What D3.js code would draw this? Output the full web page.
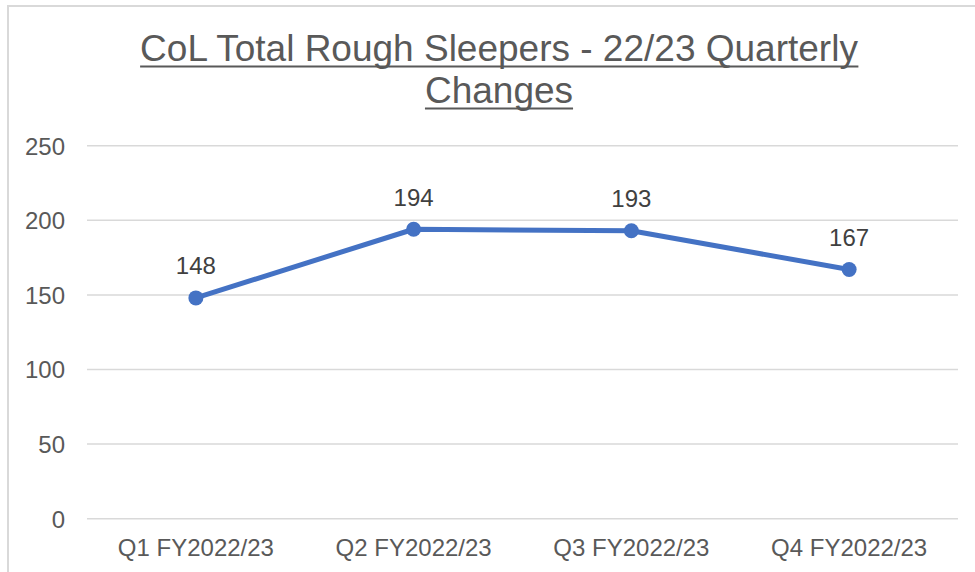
<!DOCTYPE html>
<html>
<head>
<meta charset="utf-8">
<script src="https://cdn.jsdelivr.net/npm/d3@7"></script>
<style>
  html, body { margin: 0; padding: 0; background: #fff; }
  svg { display: block; font-family: "Liberation Sans", Arial, sans-serif; }
</style>
</head>
<body>
<svg id="chart" width="975" height="572"></svg>
<script>
const categories = ["Q1 FY2022/23", "Q2 FY2022/23", "Q3 FY2022/23", "Q4 FY2022/23"];
const values = [148, 194, 193, 167];
const yTicks = [0, 50, 100, 150, 200, 250];
const titleLines = ["CoL Total Rough Sleepers - 22/23 Quarterly", "Changes"];

const W = 975, H = 572;
const plot = { left: 87, right: 958, top: 145.7, bottom: 518.7 };

const svg = d3.select("#chart");

// chart border
svg.append("rect")
  .attr("x", 8).attr("y", 6)
  .attr("width", 1100).attr("height", 700)
  .attr("fill", "none").attr("stroke", "#d9d9d9").attr("stroke-width", 2);

const x = d3.scaleBand().domain(categories).range([plot.left, plot.right]).padding(0);
const y = d3.scaleLinear().domain([0, 250]).range([plot.bottom, plot.top]);

// gridlines
svg.append("g").selectAll("line").data(yTicks).join("line")
  .attr("x1", plot.left).attr("x2", plot.right)
  .attr("y1", d => y(d)).attr("y2", d => y(d))
  .attr("stroke", "#d9d9d9").attr("stroke-width", 1.5);

// y axis labels
const yAxis = d3.axisLeft(y).tickValues(yTicks).tickSize(0).tickPadding(0);
const gy = svg.append("g").attr("transform", `translate(65,0)`).call(yAxis);
gy.select(".domain").remove();
gy.selectAll("text")
  .attr("fill", "#595959").attr("font-size", 24)
  .attr("font-family", "'Liberation Sans', Arial, sans-serif")
  .attr("dy", "0.35em");

// x axis labels
const xAxis = d3.axisBottom(x).tickSize(0).tickPadding(0);
const gx = svg.append("g").attr("transform", `translate(0,${plot.bottom})`).call(xAxis);
gx.select(".domain").remove();
gx.selectAll("text")
  .attr("fill", "#595959").attr("font-size", 24)
  .attr("font-family", "'Liberation Sans', Arial, sans-serif")
  .attr("y", 37).attr("dy", 0);

const data = categories.map((c, i) => ({ c, v: values[i] }));
const cx = d => x(d.c) + x.bandwidth() / 2;

// line
svg.append("path").datum(data)
  .attr("fill", "none").attr("stroke", "#4472C4").attr("stroke-width", 5)
  .attr("stroke-linejoin", "round")
  .attr("d", d3.line().x(cx).y(d => y(d.v)));

// markers
svg.append("g").selectAll("circle").data(data).join("circle")
  .attr("cx", cx).attr("cy", d => y(d.v)).attr("r", 7.5)
  .attr("fill", "#4472C4");

// data labels
svg.append("g").selectAll("text").data(data).join("text")
  .attr("x", cx).attr("y", d => y(d.v) - 23.5)
  .attr("text-anchor", "middle")
  .attr("fill", "#404040").attr("font-size", 24)
  .text(d => d.v);

// title
const title = svg.append("g");
const baselines = [61, 103];
titleLines.forEach((t, i) => {
  const txt = title.append("text")
    .attr("x", 499).attr("y", baselines[i])
    .attr("text-anchor", "middle")
    .attr("fill", "#595959").attr("font-size", 37)
    .text(t);
  const bb = txt.node().getBBox();
  title.append("line")
    .attr("x1", bb.x).attr("x2", bb.x + bb.width)
    .attr("y1", baselines[i] + 5.5).attr("y2", baselines[i] + 5.5)
    .attr("stroke", "#595959").attr("stroke-width", 2.2);
});
</script>
</body>
</html>
